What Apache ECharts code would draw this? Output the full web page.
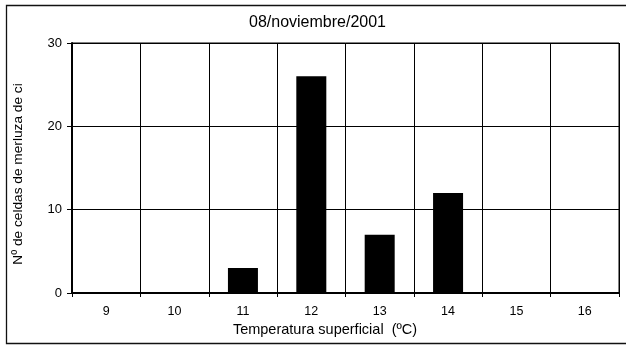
<!DOCTYPE html>
<html>
<head>
<meta charset="utf-8">
<script src="https://cdn.jsdelivr.net/npm/echarts@6/dist/echarts.min.js"></script>
<style>
html,body{margin:0;padding:0;background:#fff;}
#chart{width:626px;height:345px;}
</style>
</head>
<body>
<div id="chart"></div>
<script>
const titleText = '08/noviembre/2001';
const categories = ['9', '10', '11', '12', '13', '14', '15', '16'];
const counts = [0, 0, 3, 26, 7, 12, 0, 0];
const yTicks = [0, 10, 20, 30];
const xName = 'Temperatura superficial  (ºC)';
const yName = 'Nº de celdas de merluza de ci';

const FONT = '"Liberation Sans", Arial, sans-serif';
const chart = echarts.init(document.getElementById('chart'), null, {renderer: 'canvas'});
chart.setOption({
  animation: false,
  backgroundColor: '#fff',
  title: {
    text: titleText,
    left: 249,
    top: 15,
    padding: 0,
    textStyle: {fontFamily: FONT, fontSize: 16, fontWeight: 'normal', color: '#000'}
  },
  graphic: [{
    type: 'rect',
    shape: {x: 6.5, y: 5.5, width: 630, height: 338},
    style: {fill: 'none', stroke: '#111', lineWidth: 1.3},
    silent: true,
    z: 100
  }],
  grid: {
    left: 72, top: 43, right: 7, bottom: 52,
    show: true, borderColor: '#000', borderWidth: 1, backgroundColor: '#fff'
  },
  xAxis: {
    type: 'category',
    data: categories,
    boundaryGap: true,
    name: xName,
    nameLocation: 'middle',
    nameGap: 28,
    nameTextStyle: {fontFamily: FONT, fontSize: 14.5, color: '#000', padding: [0, 41, 0, 0]},
    axisLine: {show: true, lineStyle: {color: '#000', width: 2}},
    axisTick: {show: true, inside: false, length: 4, alignWithLabel: false, lineStyle: {color: '#000'}},
    axisLabel: {fontFamily: FONT, fontSize: 12.5, color: '#000', margin: 12},
    splitLine: {show: true, lineStyle: {color: '#000', width: 1}}
  },
  yAxis: {
    type: 'value',
    min: yTicks[0],
    max: yTicks[yTicks.length - 1],
    interval: yTicks[1] - yTicks[0],
    name: yName,
    nameLocation: 'middle',
    nameGap: 47,
    nameTextStyle: {fontFamily: FONT, fontSize: 13.7, color: '#000', padding: [0, 12, 0, 0]},
    axisLine: {show: true, lineStyle: {color: '#000', width: 2}},
    axisTick: {show: true, inside: false, length: 5, lineStyle: {color: '#000'}},
    axisLabel: {fontFamily: FONT, fontSize: 13, color: '#000', margin: 10},
    splitLine: {show: true, lineStyle: {color: '#000', width: 1}}
  },
  series: [{
    type: 'bar',
    data: counts,
    barWidth: 30,
    itemStyle: {color: '#000'},
    z: 3
  }]
});
</script>
</body>
</html>
